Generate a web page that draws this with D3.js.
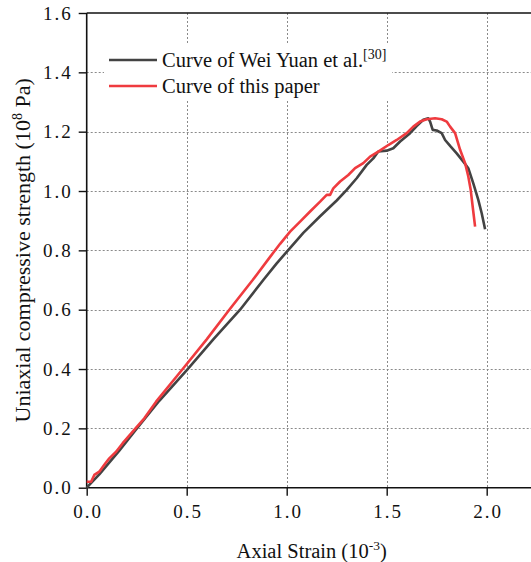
<!DOCTYPE html>
<html>
<head>
<meta charset="utf-8">
<script src="https://cdn.jsdelivr.net/npm/d3@7"></script>
<style>
  body { margin: 0; background: #fff; }
  svg { display: block; }
  text { font-family: "Liberation Serif", "Times New Roman", serif; fill: #111; }
</style>
</head>
<body>
<svg id="chart" width="531" height="562"></svg>
<script>
// Tick values
const xTicks = [0.0, 0.5, 1.0, 1.5, 2.0];
const yTicks = [0.0, 0.2, 0.4, 0.6, 0.8, 1.0, 1.2, 1.4, 1.6];

// Stress–strain curve reported by Wei Yuan et al.
const weiStrain = [0, 0.063, 0.163, 0.247, 0.363, 0.505, 0.633, 0.767, 0.883, 0.95, 1.0, 1.083, 1.167, 1.25, 1.3, 1.35, 1.4, 1.433, 1.458, 1.5, 1.533, 1.567, 1.617, 1.65, 1.683, 1.708, 1.717, 1.73, 1.75, 1.775, 1.792, 1.817, 1.85, 1.883, 1.908, 1.933, 1.958, 1.975, 1.992];
const weiStress = [0, 0.045, 0.125, 0.196, 0.293, 0.4, 0.5, 0.6, 0.7, 0.756, 0.795, 0.859, 0.915, 0.968, 1.004, 1.043, 1.088, 1.11, 1.133, 1.136, 1.144, 1.167, 1.195, 1.219, 1.24, 1.245, 1.234, 1.206, 1.204, 1.195, 1.172, 1.152, 1.127, 1.099, 1.077, 1.026, 0.97, 0.925, 0.871];

// Stress–strain curve computed in this paper
const paperStrain = [0, 0.022, 0.038, 0.063, 0.088, 0.113, 0.147, 0.18, 0.23, 0.288, 0.347, 0.48, 0.6, 0.713, 0.83, 0.917, 0.967, 1.017, 1.067, 1.117, 1.167, 1.2, 1.217, 1.233, 1.267, 1.308, 1.342, 1.383, 1.417, 1.458, 1.508, 1.55, 1.6, 1.633, 1.667, 1.7, 1.742, 1.775, 1.8, 1.817, 1.842, 1.867, 1.892, 1.908, 1.92, 1.93, 1.942];
const paperStress = [0.02, 0.02, 0.043, 0.054, 0.077, 0.099, 0.121, 0.15, 0.189, 0.234, 0.29, 0.4, 0.5, 0.6, 0.7, 0.778, 0.822, 0.863, 0.897, 0.931, 0.964, 0.987, 0.987, 1.009, 1.032, 1.054, 1.077, 1.094, 1.116, 1.133, 1.155, 1.172, 1.195, 1.217, 1.234, 1.242, 1.245, 1.242, 1.234, 1.217, 1.195, 1.139, 1.094, 1.049, 1.004, 0.947, 0.88];

const seriesLabels = ["Curve of Wei Yuan et al.", "Curve of this paper"];
const seriesRefs = ["[30]", ""];
const seriesColors = ["#434343", "#ef3b3f"];

const svg = d3.select("#chart");
const W = 531;
const plotLeft = 86.7, plotTop = 13, plotBottom = 487.7;
const serif = '"Liberation Serif", "Times New Roman", serif';

const x = d3.scaleLinear().domain([0, 2.25]).range([plotLeft, plotLeft + 2.25 * 200]);
const y = d3.scaleLinear().domain([0, 1.6]).range([plotBottom, plotTop]);

// Dotted grid
const grid = svg.append("g").attr("stroke", "#8a8a8a").attr("stroke-width", 1).attr("stroke-dasharray", "2,2");
grid.selectAll("line.gx").data(xTicks.filter(d => d > 0)).join("line")
  .attr("x1", d => Math.round(x(d)) + 0.5).attr("x2", d => Math.round(x(d)) + 0.5)
  .attr("y1", plotTop).attr("y2", plotBottom);
grid.selectAll("line.gy").data(yTicks.filter(d => d > 0 && d < 1.6)).join("line")
  .attr("y1", d => Math.round(y(d)) + 0.5).attr("y2", d => Math.round(y(d)) + 0.5)
  .attr("x1", plotLeft).attr("x2", W);

// Axes
const fmt = d3.format(".1f");
const yAxis = svg.append("g").attr("transform", `translate(${plotLeft},0)`)
  .call(d3.axisLeft(y).tickValues(yTicks).tickFormat(fmt).tickSize(8).tickPadding(6));
const xAxis = svg.append("g").attr("transform", `translate(0,${plotBottom})`)
  .call(d3.axisBottom(x).tickValues(xTicks).tickFormat(fmt).tickSize(8).tickPadding(9));
[xAxis, yAxis].forEach(a => {
  a.select(".domain").attr("stroke", "#111").attr("stroke-width", 1.6);
  a.selectAll(".tick line").attr("stroke", "#111").attr("stroke-width", 1.4);
  a.selectAll(".tick text")
    .style("font-family", serif).style("font-size", "19px").style("letter-spacing", "2px")
    .attr("fill", "#111");
});
xAxis.selectAll(".tick text").attr("dx", "1px");
xAxis.select(".domain").attr("d", `M${plotLeft},0H${W + 10}`);
yAxis.select(".domain").attr("d", `M0,${plotBottom}V${plotTop}`);
// top frame line
svg.append("line").attr("x1", plotLeft).attr("x2", W).attr("y1", plotTop).attr("y2", plotTop)
  .attr("stroke", "#111").attr("stroke-width", 1.6);

// Curves
const line = d3.line().x(d => x(d[0])).y(d => y(d[1]));
const series = [
  d3.zip(weiStrain, weiStress),
  d3.zip(paperStrain, paperStress)
];
svg.append("g").selectAll("path").data(series).join("path")
  .attr("d", line)
  .attr("fill", "none")
  .attr("stroke", (d, i) => seriesColors[i])
  .attr("stroke-width", 2.6)
  .attr("stroke-linejoin", "round");

// Legend
const legend = svg.append("g");
legend.append("rect").attr("x", 104).attr("y", 43).attr("width", 288).attr("height", 57).attr("fill", "#fff");
const items = legend.selectAll("g.item").data(seriesLabels).join("g")
  .attr("transform", (d, i) => `translate(0,${60 + i * 26})`);
items.append("line").attr("x1", 109).attr("x2", 157).attr("y1", 0).attr("y2", 0)
  .attr("stroke", (d, i) => seriesColors[i]).attr("stroke-width", 2.6);
const lt = items.append("text").attr("x", 162).attr("y", 7).style("font-size", "20.5px");
lt.append("tspan").text(d => d);
lt.append("tspan").attr("dy", -8).style("font-size", "14px").text((d, i) => seriesRefs[i]);

// Axis titles
const xt = svg.append("text").attr("x", x(1.125)).attr("y", 558).attr("text-anchor", "middle").style("font-size", "20.5px");
xt.append("tspan").text("Axial Strain (10");
xt.append("tspan").attr("dy", -8).style("font-size", "13.5px").text("-3");
xt.append("tspan").attr("dy", 8).text(")");

const yt = svg.append("text").attr("transform", `translate(30,${(plotTop + plotBottom) / 2}) rotate(-90)`)
  .attr("text-anchor", "middle").style("font-size", "22px");
yt.append("tspan").text("Uniaxial compressive strength (10");
yt.append("tspan").attr("dy", -8).style("font-size", "14px").text("8");
yt.append("tspan").attr("dy", 8).text(" Pa)");
</script>
</body>
</html>
